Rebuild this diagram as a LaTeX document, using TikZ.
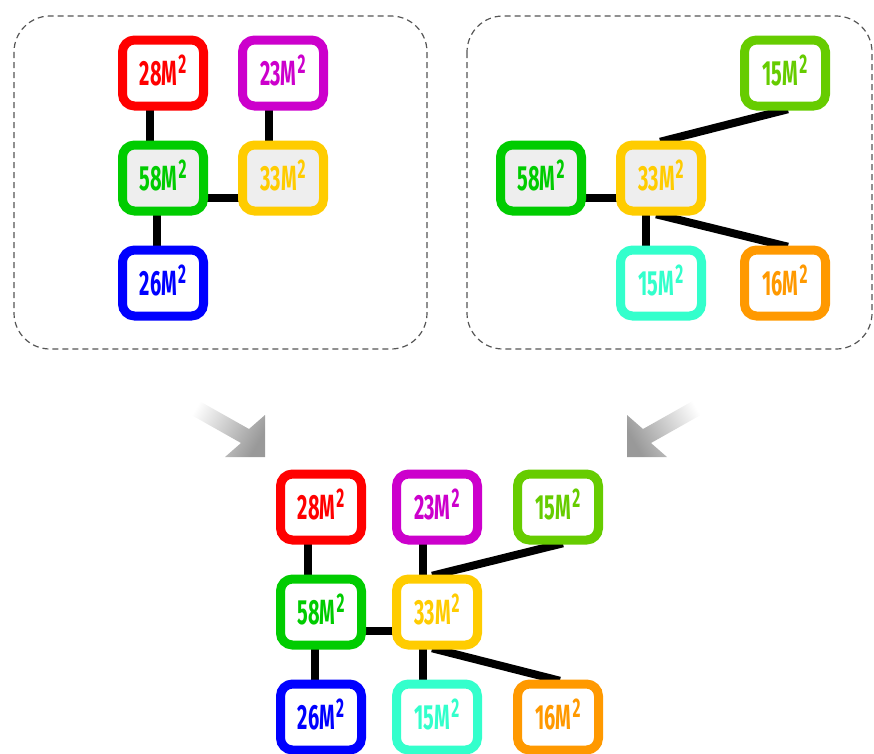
\documentclass[tikz,border=0pt]{standalone}
\usepackage{fontspec}
\newfontfamily\roomfont[FakeStretch=0.57]{Fira Sans}
\usetikzlibrary{positioning,backgrounds}
\definecolor{roomred}{HTML}{FF0000}
\definecolor{roompurple}{HTML}{CC00CC}
\definecolor{roomgreen}{HTML}{00CC00}
\definecolor{roomgold}{HTML}{FFCC00}
\definecolor{roomblue}{HTML}{0000FF}
\definecolor{roomlime}{HTML}{66CC00}
\definecolor{roomaqua}{HTML}{33FFCC}
\definecolor{roomorange}{HTML}{FF9900}
\definecolor{hubgray}{HTML}{EEEEEE}
\definecolor{panelgray}{HTML}{555555}
\tikzset{
  room/.style={
    rectangle, rounded corners=12pt, draw=#1, text=#1, line width=9pt,
    fill=white, minimum width=81pt, minimum height=66pt, inner sep=0pt,
    text height=24pt, text depth=0pt,
    font=\roomfont\bfseries\fontsize{35}{37}\selectfont
  },
  hub/.style={room=#1, fill=hubgray},
  link/.style={line width=8pt, draw=black, shorten <=-5pt, shorten >=-5pt},
  panel/.style={draw=panelgray, dash pattern=on 6pt off 4pt, line width=1.2pt, rounded corners=36pt},
  mergearrow/.style={top color=white, bottom color=black!40, draw=none},
}
\newcommand{\sqm}[1]{#1M\kern1pt\raisebox{12pt}{\fontsize{27}{27}\selectfont 2}}

\begin{document}
\begin{tikzpicture}[x=1pt, y=-1pt, node distance=30pt]
  \useasboundingbox (0,0) rectangle (874,753);

  % first plan
  \node[hub=roomgreen] (a58) at (163,178) {\sqm{58}};
  \node[room=roomred, above=of a58] (a28) {\sqm{28}};
  \node[room=roomblue, below=of a58] (a26) {\sqm{26}};
  \node[hub=roomgold, right=of a58] (a33) {\sqm{33}};
  \node[room=roompurple, above=of a33] (a23) {\sqm{23}};

  % second plan
  \node[hub=roomgreen] (b58) at (541,178) {\sqm{58}};
  \node[hub=roomgold, right=of b58] (b33) {\sqm{33}};
  \node[room=roomaqua, below=of b33] (b15a) {\sqm{15}};
  \node[room=roomlime, above right=30pt and 34pt of b33] (b15l) {\sqm{15}};
  \node[room=roomorange, below right=30pt and 34pt of b33] (b16) {\sqm{16}};

  % merged plan
  \node[room=roomgreen] (c58) at (321,612) {\sqm{58}};
  \node[room=roomred, above=of c58] (c28) {\sqm{28}};
  \node[room=roomblue, below=of c58] (c26) {\sqm{26}};
  \node[room=roomgold, right=26pt of c58] (c33) {\sqm{33}};
  \node[room=roompurple, above=of c33] (c23) {\sqm{23}};
  \node[room=roomaqua, below=of c33] (c15a) {\sqm{15}};
  \node[room=roomlime, above right=30pt and 31pt of c33] (c15l) {\sqm{15}};
  \node[room=roomorange, below right=30pt and 31pt of c33] (c16) {\sqm{16}};

  \begin{scope}[on background layer]
    \draw[panel] (14,16) rectangle (427,349);
    \draw[panel] (467,16) rectangle (872,349);

    \draw[link] ([xshift=-13pt]a28.south) -- ([xshift=-13pt]a58.north);
    \draw[link] ([xshift=-14pt]a23.south) -- ([xshift=-14pt]a33.north);
    \draw[link] ([xshift=-6pt]a58.south) -- ([xshift=-6pt]a26.north);
    \draw[link] ([yshift=-20pt]a58.east) -- ([yshift=-20pt]a33.west);

    \draw[link] ([yshift=-20pt]b58.east) -- ([yshift=-20pt]b33.west);
    \draw[link] ([xshift=-15pt]b33.south) -- ([xshift=-15pt]b15a.north);
    \draw[link] ([xshift=4pt]b33.north) -- ([xshift=-2pt]b15l.south);
    \draw[link] (b33.south) -- ([xshift=-2pt]b16.north);

    \draw[link] ([xshift=-13pt]c28.south) -- ([xshift=-13pt]c58.north);
    \draw[link] ([xshift=-14pt]c23.south) -- ([xshift=-14pt]c33.north);
    \draw[link] ([xshift=-6pt]c58.south) -- ([xshift=-6pt]c26.north);
    \draw[link] ([yshift=-19pt]c58.east) -- ([yshift=-19pt]c33.west);
    \draw[link] ([xshift=-14pt]c33.south) -- ([xshift=-14pt]c15a.north);
    \draw[link] (c33.north) -- (c15l.south);
    \draw[link] (c33.south) -- ([xshift=-3pt]c16.north);
  \end{scope}

  % merge arrows
  \shade[mergearrow, shading angle=60] (194,398) -- (249,429) -- (265,415) -- (265,457)
    -- (225,457) -- (241,443) -- (186,412) -- cycle;
  \shade[mergearrow, shading angle=-60] (698,398) -- (643,429) -- (627,415) -- (627,457)
    -- (667,457) -- (651,443) -- (706,412) -- cycle;
\end{tikzpicture}
\end{document}
